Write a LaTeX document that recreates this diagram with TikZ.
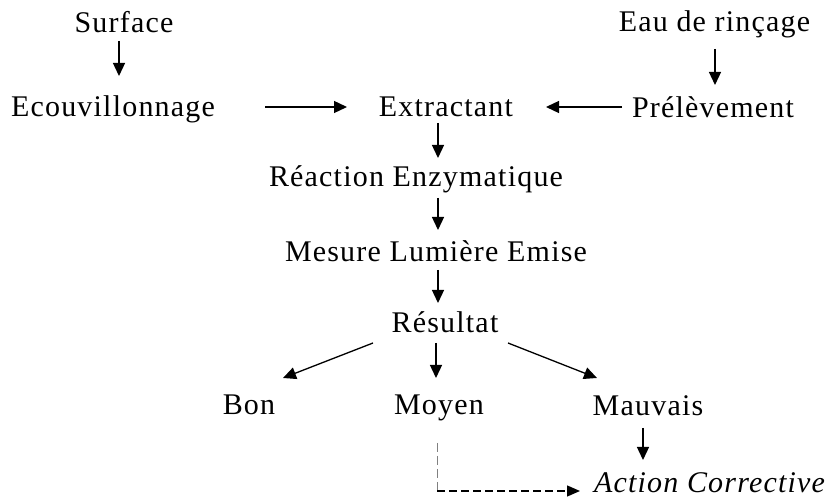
\documentclass[tikz,border=0pt]{standalone}
\usepackage{fontspec}
\setmainfont{Liberation Serif}[LetterSpace=4]
\usetikzlibrary{arrows.meta,calc}
\begin{document}
\begin{tikzpicture}[x=1pt,y=-1pt,
  lbl/.style={anchor=base,inner sep=0pt,font=\fontsize{30}{34}\selectfont},
  italbl/.style={anchor=base,inner sep=0pt,font=\fontsize{30}{34}\selectfont\itshape},
  arr/.style={line width=1.3pt,-{Triangle[length=13pt,width=12pt]}},
  dsh/.style={line width=1.3pt,dash pattern=on 8pt off 4pt,-{Triangle[length=13pt,width=11pt]}},
  dshv/.style={line width=0.6pt,gray,dash pattern=on 9pt off 4pt}]
\path[use as bounding box,fill=white] (0,0) rectangle (831,502);
\node[lbl] (sur) at (124,33) {Surface};
\node[lbl] (eau) at (714.5,32) {Eau de rinçage};
\node[lbl] (eco) at (113,117) {Ecouvillonnage};
\node[lbl] (ext) at (446,117) {Extractant};
\node[lbl] (pre) at (713,118) {Prélèvement};
\node[lbl] (rea) at (416,187) {Réaction Enzymatique};
\node[lbl] (mes) at (436,262) {Mesure Lumière Emise};
\node[lbl] (res) at (445,333) {Résultat};
\node[lbl] (bon) at (249,415) {Bon};
\node[lbl] (moy) at (439,415) {Moyen};
\node[lbl] (mau) at (648,416) {Mauvais};
\node[italbl] (act) at (709.5,493) {Action Corrective};
\draw[arr] ($(sur.base)+(-5,8)$) -- ($(eco.base)+(6,-41)$);
\draw[arr] ($(eau.base)+(0.5,17)$) -- ($(pre.base)+(2,-33)$);
\draw[arr] ($(eco.base)+(152,-10)$) -- ($(ext.base)+(-99,-10)$);
\draw[arr] ($(pre.base)+(-91,-11)$) -- ($(ext.base)+(100,-10)$);
\draw[arr] ($(ext.base)+(-8,6)$) -- ($(rea.base)+(22,-29)$);
\draw[arr] ($(rea.base)+(22,11)$) -- ($(mes.base)+(2,-32)$);
\draw[arr] ($(mes.base)+(2,8)$) -- ($(res.base)+(-7,-30)$);
\draw[arr] ($(res.base)+(-72,10)$) -- ($(bon.base)+(34,-37)$);
\draw[arr] ($(res.base)+(-9,10)$) -- ($(moy.base)+(-3,-37)$);
\draw[arr] ($(res.base)+(63,10)$) -- ($(mau.base)+(-51,-38)$);
\draw[arr] ($(mau.base)+(-5,12)$) -- ($(act.base)+(-66.5,-33)$);
\draw[dshv] ($(moy.base)+(-2,28)$) -- ($(moy.base)+(-2,76)$);
\draw[dsh] ($(moy.base)+(-2,76)$) -- ($(act.base)+(-129.5,-2)$);
\end{tikzpicture}
\end{document}
